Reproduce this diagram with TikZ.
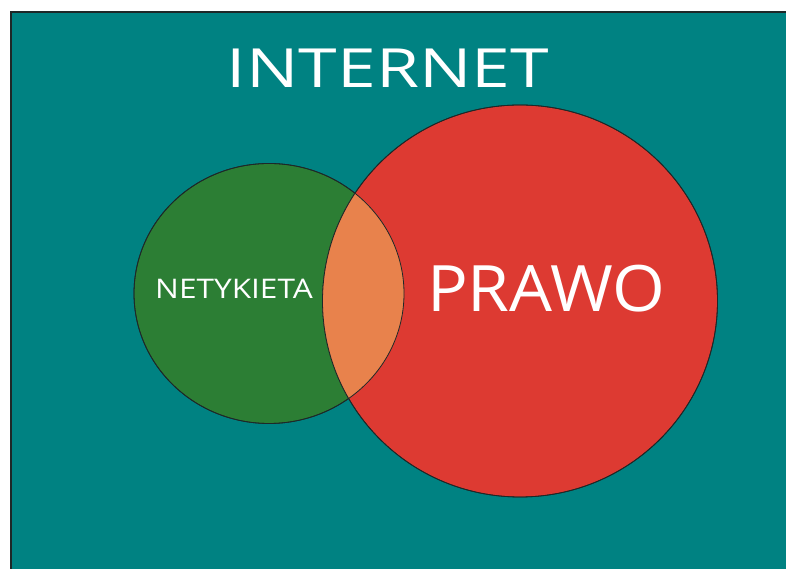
\documentclass[tikz,border=0pt]{standalone}
\usepackage{fontspec}
\usetikzlibrary{shapes.geometric}
\setmainfont{Open Sans}
\definecolor{teal0}{RGB}{0,130,130}
\definecolor{grn}{RGB}{44,126,52}
\definecolor{rd}{RGB}{221,58,50}
\definecolor{org}{RGB}{232,130,76}
\definecolor{edge}{RGB}{30,40,40}
\begin{document}
\begin{tikzpicture}[x=1pt,y=1pt,
  venn/.style={ellipse,inner sep=0pt,draw=edge,line width=0.8pt},
  lbl/.style={text=white,inner sep=0pt}]
\useasboundingbox (0,0) rectangle (786,569);
\fill[white] (0,0) rectangle (786,569);
\fill[teal0] (11,-5) rectangle (800,557);
\draw[edge,line width=1.2pt] (11,-5) -- (11,557) -- (800,557);
\node[venn,fill=grn,minimum width=270pt,minimum height=260pt] (net) at (269,275.5) {};
\node[venn,fill=rd,minimum width=395pt,minimum height=392pt] (law) at (520,268) {};
\begin{scope}
  \clip (269,275.5) ellipse [x radius=135pt,y radius=130pt];
  \fill[org] (520,268) ellipse [x radius=197.5pt,y radius=196pt];
\end{scope}
\draw[edge,line width=0.8pt] (269,275.5) ellipse [x radius=135pt,y radius=130pt];
\draw[edge,line width=0.8pt] (520,268) ellipse [x radius=197.5pt,y radius=196pt];
\node[lbl,font=\fontsize{54}{60}\selectfont,xscale=1.29] (t) at (388,501) {INTERNET};
\node[lbl,font=\fontsize{64}{70}\selectfont,xscale=1.06] (p) at (546,280) {PRAWO};
\node[lbl,font=\fontsize{27}{30}\selectfont,xscale=1.17] (n) at (234,280) {NETYKIETA};
\end{tikzpicture}
\end{document}
